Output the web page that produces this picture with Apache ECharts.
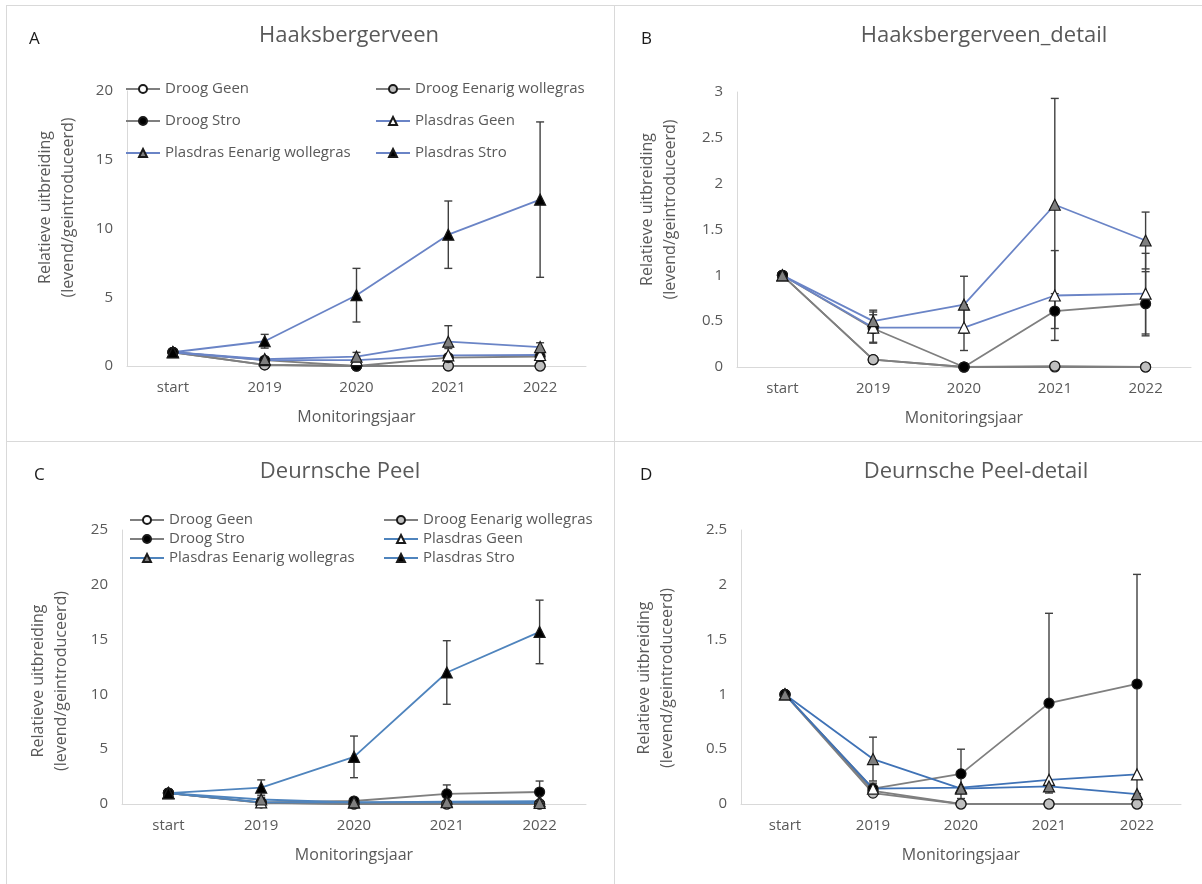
<!DOCTYPE html>
<html>
<head>
<meta charset="utf-8">
<script src="https://cdn.jsdelivr.net/npm/echarts@6/dist/echarts.min.js"></script>
<style>
    html, body { margin: 0; background: #fff; }
    .page { position: relative; width: 1202px; height: 884px; overflow: hidden; }
    .panel { position: absolute; border-left: 1px solid #d9d9d9; border-top: 1px solid #d9d9d9; }
    .chart { width: 100%; height: 100%; }
</style>
</head>
<body>
<div class="page">
    <div class="panel" style="left:6px;top:5px;width:608px;height:436px"><div id="chartA" class="chart"></div></div>
    <div class="panel" style="left:614px;top:5px;width:588px;height:436px"><div id="chartB" class="chart"></div></div>
    <div class="panel" style="left:6px;top:441px;width:608px;height:443px"><div id="chartC" class="chart"></div></div>
    <div class="panel" style="left:614px;top:441px;width:588px;height:443px"><div id="chartD" class="chart"></div></div>
</div>
<script>
const years = ['start', '2019', '2020', '2021', '2022'];
const names = ['Droog Geen', 'Droog Eenarig wollegras', 'Droog Stro', 'Plasdras Geen', 'Plasdras Eenarig wollegras', 'Plasdras Stro'];

// Haaksbergerveen (A + detail B)
const hbDroogGeen = [1, 0.08, 0, 0, 0];
const hbDroogEenarig = [1, 0.08, 0, 0.01, 0];
const hbDroogStro = [1, 0.42, 0, 0.61, 0.69];
const hbPlasGeen = [1, 0.43, 0.43, 0.78, 0.8];
const hbPlasEenarig = [1, 0.5, 0.68, 1.77, 1.38];
const hbPlasStro = [1, 1.8, 5.15, 9.55, 12.1];
const hbErrDroogStro = [0, 0.15, 0, 0.19, 0.35];
const hbErrPlasGeen = [0, 0.17, 0.25, 0.49, 0.44];
const hbErrPlasEenarig = [0, 0.12, 0.31, 1.16, 0.31];
const hbErrPlasStro = [0, 0.5, 1.95, 2.45, 5.65];

// Deurnsche Peel (C + detail D)
const dpDroogGeen = [1, 0.12, 0, 0, 0];
const dpDroogEenarig = [1, 0.1, 0, 0, 0];
const dpDroogStro = [1, 0.14, 0.275, 0.92, 1.095];
const dpPlasGeen = [1, 0.14, 0.15, 0.22, 0.27];
const dpPlasEenarig = [1, 0.41, 0.14, 0.16, 0.09];
const dpPlasStro = [1, 1.5, 4.3, 12.0, 15.7];
const dpErrDroogStro = [0, 0.05, 0.225, 0.82, 1.0];
const dpErrPlasEenarig = [0, 0.2, 0, 0, 0];
const dpErrPlasStro = [0, 0.7, 1.9, 2.9, 2.9];

// y axis ticks per panel
const ticksA = [0, 5, 10, 15, 20];
const ticksB = [0, 0.5, 1, 1.5, 2, 2.5, 3];
const ticksC = [0, 5, 10, 15, 20, 25];
const ticksD = [0, 0.5, 1, 1.5, 2, 2.5];

const FONT = 'Open Sans';
const TEXT = '#595959';
const GRAY = '#7f7f7f';
const AXIS = '#d9d9d9';

// marker look per treatment
const markers = {
    'Droog Geen': { symbol: 'circle', fill: '#ffffff', blue: false },
    'Droog Eenarig wollegras': { symbol: 'circle', fill: '#bfbfbf', blue: false },
    'Droog Stro': { symbol: 'circle', fill: '#000000', blue: false },
    'Plasdras Geen': { symbol: 'triangle', fill: '#ffffff', blue: true },
    'Plasdras Eenarig wollegras': { symbol: 'triangle', fill: '#7f7f7f', blue: true },
    'Plasdras Stro': { symbol: 'triangle', fill: '#000000', blue: true },
};

function lineSeries(name, vals, blue) {
    const m = markers[name];
    return {
        name: name,
        type: 'line',
        data: vals,
        symbol: m.symbol,
        symbolSize: m.symbol === 'circle' ? 10 : 11,
        lineStyle: { color: m.blue ? blue : GRAY, width: 1.8 },
        itemStyle: { color: m.fill, borderColor: '#1a1a1a', borderWidth: 1.2 },
        z: 3,
    };
}

function errorBars(vals, errs) {
    const data = vals.map((v, i) => [i, v - errs[i], v + errs[i]]).filter((d, i) => errs[i] > 0);
    return {
        type: 'custom',
        data: data,
        encode: { x: 0, y: [1, 2] },
        clip: true,
        silent: true,
        z: 2,
        renderItem(params, api) {
            const x = api.value(0);
            const lo = api.coord([x, api.value(1)]);
            const hi = api.coord([x, api.value(2)]);
            const w = 4;
            const st = { stroke: '#404040', lineWidth: 1.4 };
            return {
                type: 'group',
                children: [
                    { type: 'line', shape: { x1: hi[0], y1: hi[1], x2: lo[0], y2: lo[1] }, style: st },
                    { type: 'line', shape: { x1: hi[0] - w, y1: hi[1], x2: hi[0] + w, y2: hi[1] }, style: st },
                    { type: 'line', shape: { x1: lo[0] - w, y1: lo[1], x2: lo[0] + w, y2: lo[1] }, style: st },
                ]
            };
        }
    };
}

function makeChart(el, cfg) {
    const chart = echarts.init(document.getElementById(el));
    const ticks = cfg.ticks;
    const option = {
        animation: false,
        textStyle: { fontFamily: FONT },
        title: [
            { text: cfg.title, left: cfg.titleX, top: cfg.titleTop, textAlign: 'center',
              textStyle: { fontFamily: FONT, fontSize: 22, fontWeight: 'normal', color: TEXT } },
            { text: cfg.letter, left: cfg.letterX, top: cfg.titleTop + 6,
              textStyle: { fontFamily: FONT, fontSize: 17, fontWeight: 'normal', color: '#1a1a1a' } },
        ],
        grid: cfg.grid,
        xAxis: {
            type: 'category',
            data: years,
            axisLine: { lineStyle: { color: AXIS, width: 1 } },
            axisTick: { show: false },
            axisLabel: { color: TEXT, fontSize: 15, margin: 14, fontFamily: FONT },
            name: 'Monitoringsjaar',
            nameLocation: 'middle',
            nameGap: 43,
            nameTextStyle: { color: TEXT, fontSize: 16, fontFamily: FONT },
        },
        yAxis: {
            type: 'value',
            min: ticks[0],
            max: ticks[ticks.length - 1],
            interval: ticks[1] - ticks[0],
            axisLine: { show: true, lineStyle: { color: AXIS, width: 1 } },
            axisTick: { show: false },
            splitLine: { show: false },
            axisLabel: { color: TEXT, fontSize: 15, margin: 14, fontFamily: FONT },
            name: 'Relatieve uitbreiding\n(levend/geintroduceerd)',
            nameLocation: 'middle',
            nameGap: cfg.nameGap,
            nameTextStyle: { color: TEXT, fontSize: 16, lineHeight: 23, fontFamily: FONT, padding: cfg.namePad },
        },
        legend: [],
        series: [],
    };
    if (cfg.legend) {
        const common = {
            orient: 'vertical',
            top: cfg.legend.top,
            itemWidth: 34,
            itemHeight: 10,
            itemGap: cfg.legend.gap,
            selectedMode: false,
            textStyle: { color: TEXT, fontSize: 15, lineHeight: 18, fontFamily: FONT },
        };
        option.legend.push(Object.assign({ left: cfg.legend.left1, data: [names[0], names[2], names[4]] }, common));
        option.legend.push(Object.assign({ left: cfg.legend.left2, data: [names[1], names[3], names[5]] }, common));
    }
    cfg.errors.forEach(e => option.series.push(errorBars(e[0], e[1])));
    cfg.lines.forEach(l => option.series.push(lineSeries(l[0], l[1], cfg.blue)));
    chart.setOption(option);
}

makeChart('chartA', {
    title: 'Haaksbergerveen', titleX: 337, titleTop: 14, letter: 'A', letterX: 17,
    grid: { left: 120, top: 85, width: 459, height: 275 },
    ticks: ticksA, nameGap: 47, namePad: [0, 0, 0, 42], blue: '#6a84c6',
    legend: { top: 69, gap: 14, left1: 113, left2: 363 },
    errors: [[hbDroogStro, hbErrDroogStro], [hbPlasGeen, hbErrPlasGeen], [hbPlasEenarig, hbErrPlasEenarig], [hbPlasStro, hbErrPlasStro]],
    lines: [[names[0], hbDroogGeen], [names[1], hbDroogEenarig], [names[2], hbDroogStro],
            [names[3], hbPlasGeen], [names[4], hbPlasEenarig], [names[5], hbPlasStro]],
});

makeChart('chartB', {
    title: 'Haaksbergerveen_detail', titleX: 364, titleTop: 14, letter: 'B', letterX: 21,
    grid: { left: 122, top: 86, width: 454, height: 275 },
    ticks: ticksB, nameGap: 55, namePad: [0, 0, 0, 40], blue: '#6a84c6',
    errors: [[hbDroogStro, hbErrDroogStro], [hbPlasGeen, hbErrPlasGeen], [hbPlasEenarig, hbErrPlasEenarig]],
    lines: [[names[0], hbDroogGeen], [names[1], hbDroogEenarig], [names[2], hbDroogStro],
            [names[3], hbPlasGeen], [names[4], hbPlasEenarig]],
});

makeChart('chartC', {
    title: 'Deurnsche Peel', titleX: 328, titleTop: 14, letter: 'C', letterX: 22,
    grid: { left: 115, top: 88, width: 464, height: 274 },
    ticks: ticksC, nameGap: 49, namePad: [0, 28, 0, 0], blue: '#4f84bd',
    legend: { top: 64, gap: 1, left1: 117, left2: 371 },
    errors: [[dpDroogStro, dpErrDroogStro], [dpPlasEenarig, dpErrPlasEenarig], [dpPlasStro, dpErrPlasStro]],
    lines: [[names[0], dpDroogGeen], [names[1], dpDroogEenarig], [names[2], dpDroogStro],
            [names[3], dpPlasGeen], [names[4], dpPlasEenarig], [names[5], dpPlasStro]],
});

makeChart('chartD', {
    title: 'Deurnsche Peel-detail', titleX: 356, titleTop: 14, letter: 'D', letterX: 20,
    grid: { left: 126, top: 88, width: 440, height: 274 },
    ticks: ticksD, nameGap: 62, namePad: [0, 22, 0, 0], blue: '#3f72b6',
    errors: [[dpDroogStro, dpErrDroogStro], [dpPlasEenarig, dpErrPlasEenarig]],
    lines: [[names[0], dpDroogGeen], [names[1], dpDroogEenarig], [names[2], dpDroogStro],
            [names[3], dpPlasGeen], [names[4], dpPlasEenarig]],
});
</script>
</body>
</html>
